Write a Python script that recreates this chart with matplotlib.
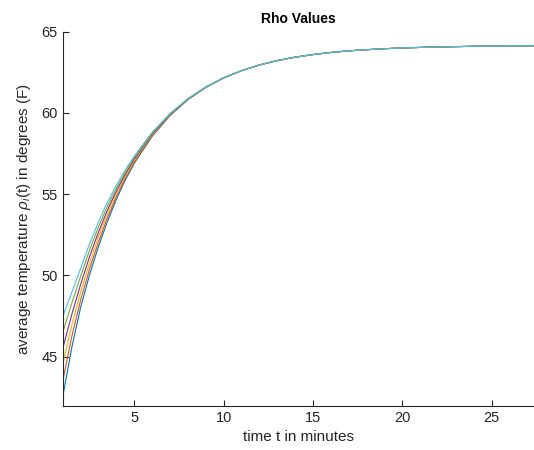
import numpy as np
import matplotlib
matplotlib.use("Agg")
import matplotlib.pyplot as plt

plt.rcParams['font.family'] = ['Liberation Sans', 'DejaVu Sans']
plt.rcParams['mathtext.fontset'] = 'custom'
plt.rcParams['mathtext.rm'] = 'Liberation Sans'
plt.rcParams['mathtext.it'] = 'Liberation Sans:italic'

# time points (minutes)
t = [1, 1.5, 2, 2.5, 3, 3.5, 4, 4.5, 5, 6, 7, 8, 9, 10,
     11, 12, 13, 14, 15, 16, 17, 18, 19, 20, 21, 22, 23, 24, 25, 26, 27, 28]

# shared tail, t = 11 .. 28 (all runs coincide here)
tail = [62.59, 62.94, 63.21, 63.42, 63.58, 63.71, 63.81, 63.88, 63.94,
        63.99, 64.02, 64.05, 64.07, 64.09, 64.10, 64.12, 64.12, 64.13]

# early part of each run, t = 1 .. 10
rho_1 = [42.54, 45.55, 48.04, 50.04, 51.79, 53.32, 54.68, 55.87, 56.89, 58.55, 59.83, 60.81, 61.56, 62.14]
rho_2 = [43.50, 46.21, 48.49, 50.40, 52.07, 53.54, 54.84, 55.98, 56.97, 58.60, 59.85, 60.82, 61.56, 62.14]
rho_3 = [44.55, 46.92, 48.99, 50.79, 52.38, 53.78, 55.02, 56.11, 57.06, 58.65, 59.88, 60.83, 61.57, 62.15]
rho_4 = [45.50, 47.58, 49.45, 51.16, 52.67, 54.01, 55.19, 56.23, 57.15, 58.70, 59.90, 60.84, 61.57, 62.15]
rho_5 = [46.50, 48.27, 49.94, 51.56, 52.99, 54.26, 55.37, 56.36, 57.25, 58.75, 59.93, 60.86, 61.58, 62.15]
rho_6 = [47.46, 48.95, 50.43, 51.94, 53.29, 54.51, 55.55, 56.49, 57.34, 58.80, 59.96, 60.87, 61.59, 62.15]

colors = ['#0072BD', '#D95319', '#EDB120', '#7E2F8E', '#77AC30', '#4DBEEE']

fig = plt.figure(figsize=(5.34, 4.5), dpi=100)
ax = fig.add_axes([0.1176, 0.0967, 0.8824, 0.8333])

for early, c in zip([rho_1, rho_2, rho_3, rho_4, rho_5, rho_6], colors):
    ax.plot(t, early + tail, color=c, lw=0.8)

ax.set_xlim(1, 27.37)
ax.set_ylim(41.93, 65)
ax.set_xticks([5, 10, 15, 20, 25])
ax.set_yticks([45, 50, 55, 60, 65])

txt = '#262626'
for s in ['top', 'right']:
    ax.spines[s].set_visible(False)
for s in ['left', 'bottom']:
    ax.spines[s].set_color(txt)
    ax.spines[s].set_linewidth(0.8)
ax.tick_params(direction='in', length=4, width=0.8, colors=txt, labelsize=10.5)

ax.set_title('Rho Values', fontsize=10, fontweight='bold', color='black', pad=6)
ax.set_xlabel('time t in minutes', fontsize=11, color=txt, labelpad=3)
ax.set_ylabel(r'average temperature $\rho_i$(t) in degrees (F)', fontsize=11, color=txt, labelpad=6)

fig.savefig('out.png', dpi=100)
